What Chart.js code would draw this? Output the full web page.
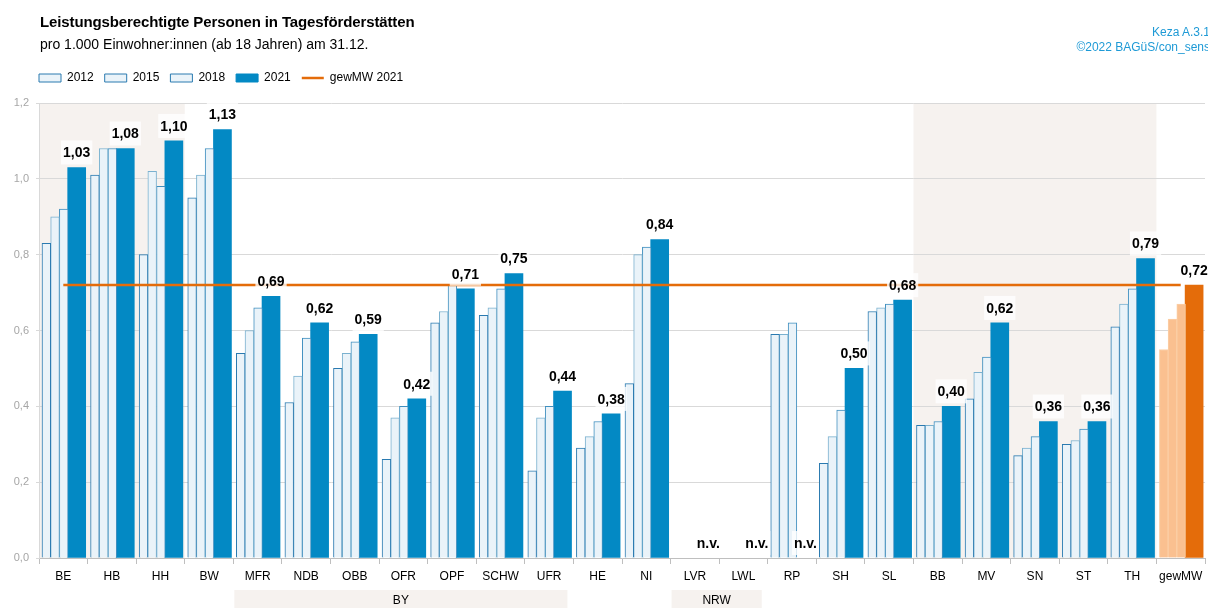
<!DOCTYPE html>
<html lang="de">
<head>
<meta charset="utf-8">
<title>Leistungsberechtigte Personen in Tagesförderstätten</title>
<script src="https://cdn.jsdelivr.net/npm/chart.js@4.4.1/dist/chart.umd.min.js"></script>
<style>
  html, body { margin: 0; padding: 0; background: #fff; }
  #wrap { position: relative; width: 1208px; height: 608px; overflow: hidden; font-family: "Liberation Sans", Arial, sans-serif; }
  #chart { position: absolute; left: 0; top: 0; }
  .title { position: absolute; left: 40px; top: 13px; font-size: 15px; font-weight: bold; line-height: 18px; color: #000; white-space: nowrap; letter-spacing: -0.12px; }
  .subtitle { position: absolute; left: 40px; top: 36px; font-size: 14px; line-height: 16px; color: #000; white-space: nowrap; }
  .credit { position: absolute; right: -2px; font-size: 12px; line-height: 14px; color: #1e9ad6; white-space: nowrap; text-align: right; }
</style>
</head>
<body>
<div id="wrap">
  <canvas id="chart" width="1208" height="608"></canvas>
  <div class="title">Leistungsberechtigte Personen in Tagesförderstätten</div>
  <div class="subtitle">pro 1.000 Einwohner:innen (ab 18 Jahren) am 31.12.</div>
  <div class="credit" style="top: 25px;">Keza A.3.1</div>
  <div class="credit" style="top: 40px;">©2022 BAGüS/con_sens</div>
</div>
<script>
// Werte je Region (n.v. = null)
const categories = ['BE', 'HB', 'HH', 'BW', 'MFR', 'NDB', 'OBB', 'OFR', 'OPF', 'SCHW', 'UFR', 'HE', 'NI',
    'LVR', 'LWL', 'RP', 'SH', 'SL', 'BB', 'MV', 'SN', 'ST', 'TH', 'gewMW'];
const v2012 = [0.83, 1.01, 0.80, 0.95, 0.54, 0.41, 0.50, 0.26, 0.62, 0.64, 0.23, 0.29, 0.46,
    null, null, 0.59, 0.25, 0.65, 0.35, 0.42, 0.27, 0.30, 0.61, 0.55];
const v2015 = [0.90, 1.08, 1.02, 1.01, 0.60, 0.48, 0.54, 0.37, 0.65, 0.66, 0.37, 0.32, 0.80,
    null, null, 0.59, 0.32, 0.66, 0.35, 0.49, 0.29, 0.31, 0.67, 0.63];
const v2018 = [0.92, 1.08, 0.98, 1.08, 0.66, 0.58, 0.57, 0.40, 0.72, 0.71, 0.40, 0.36, 0.82,
    null, null, 0.62, 0.39, 0.67, 0.36, 0.53, 0.32, 0.34, 0.71, 0.67];
const v2021 = [1.03, 1.08, 1.10, 1.13, 0.69, 0.62, 0.59, 0.42, 0.71, 0.75, 0.44, 0.38, 0.84,
    null, null, null, 0.50, 0.68, 0.40, 0.62, 0.36, 0.36, 0.79, 0.72];
const gewMW2021 = 0.72;
const yTicks = [0, 0.2, 0.4, 0.6, 0.8, 1.0, 1.2];

// Hinterlegte Bereiche und Gruppen (Index von/bis)
const shadedFrom = [0, 18];
const shadedTo = [2, 22];
const groupNames = ['BY', 'NRW'];
const groupFrom = [4, 13];
const groupTo = [10, 14];

// Lage der Säulen innerhalb einer Kategorie (Anteil der Kategoriebreite)
const slot = { y2012: -0.349, y2015: -0.170, y2018: 0.009, y2021: 0.276 };

const FONT = '"Liberation Sans", Arial, sans-serif';
const LIGHT = '#eaf3f9';
const BLUE = '#0389c4';
const ORANGE = '#e46c0a';
const ORANGE_LIGHT = '#fac090';
const last = categories.length - 1;

function colors(normal, mw) {
    return categories.map((c, i) => i === last ? mw : normal);
}
function fmt(v, d) {
    return v.toFixed(d).replace('.', ',');
}
function points(values, off) {
    return values.map((v, i) => ({ x: i + off, y: v }));
}

const bandPlugin = {
    id: 'bands',
    beforeDraw(chart) {
        const { ctx, chartArea, scales: { x } } = chart;
        const half = (x.getPixelForValue(1) - x.getPixelForValue(0)) / 2;
        ctx.save();
        ctx.fillStyle = '#f6f2ef';
        for (let i = 0; i < shadedFrom.length; i++) {
            const l = x.getPixelForValue(shadedFrom[i]) - half;
            const r = x.getPixelForValue(shadedTo[i]) + half;
            ctx.fillRect(l, chartArea.top, r - l, chartArea.bottom - chartArea.top);
        }
        ctx.font = '12px ' + FONT;
        ctx.textAlign = 'center';
        ctx.textBaseline = 'middle';
        for (let i = 0; i < groupNames.length; i++) {
            const l = x.getPixelForValue(groupFrom[i]) - half + 1;
            const r = x.getPixelForValue(groupTo[i]) + half - 6;
            ctx.fillStyle = '#f6f2ef';
            ctx.fillRect(l, 590, r - l, 20);
            ctx.fillStyle = '#000';
            ctx.fillText(groupNames[i], (l + r) / 2, 601);
        }
        ctx.restore();
    },
    afterLayout(chart) {
        // Legende an der Zeichenfläche ausrichten
        const lg = chart.legend;
        const h = lg.height;
        lg.left = chart.chartArea.left - 11;
        lg.top = 61;
        lg.bottom = 61 + h;
    }
};

const labelPlugin = {
    id: 'valueLabels',
    afterDatasetsDraw(chart) {
        const { ctx, scales: { y } } = chart;
        const meta = chart.getDatasetMeta(3);
        const y0 = y.getPixelForValue(0);
        ctx.save();
        ctx.font = 'bold 14px ' + FONT;
        ctx.textAlign = 'center';
        ctx.textBaseline = 'middle';
        meta.data.forEach((bar, i) => {
            const v = v2021[i];
            const text = v == null ? 'n.v.' : fmt(v, 2);
            const cy = v == null ? y0 - 15 : bar.y - 15;
            const w = ctx.measureText(text).width + 4;
            ctx.fillStyle = 'rgba(255,255,255,0.78)';
            ctx.fillRect(bar.x - w / 2, cy - 12, w, 24);
            ctx.fillStyle = '#000';
            ctx.fillText(text, bar.x, cy + 1);
        });
        ctx.restore();
    }
};

const thin = { grouped: false, barThickness: 8.7, borderWidth: 1, xAxisID: 'xl' };
const wide = { grouped: false, barThickness: 18, borderWidth: 0, xAxisID: 'xl' };

new Chart(document.getElementById('chart'), {
    type: 'bar',
    data: {
        labels: categories,
        datasets: [
            Object.assign({ label: '2012', data: points(v2012, slot.y2012),
                backgroundColor: colors(LIGHT, ORANGE_LIGHT), borderColor: colors('#2a7ab0', '#fbcfa6') }, thin),
            Object.assign({ label: '2015', data: points(v2015, slot.y2015),
                backgroundColor: colors(LIGHT, ORANGE_LIGHT), borderColor: colors('#7ab1cf', '#fbcfa6') }, thin),
            Object.assign({ label: '2018', data: points(v2018, slot.y2018),
                backgroundColor: colors(LIGHT, ORANGE_LIGHT), borderColor: colors('#3f8fbf', '#fbcfa6') }, thin),
            Object.assign({ label: '2021', data: points(v2021, slot.y2021),
                backgroundColor: colors(BLUE, ORANGE) }, wide),
            { type: 'line', label: 'gewMW 2021', data: categories.map(() => gewMW2021), xAxisID: 'x',
              borderColor: ORANGE, borderWidth: 2.5, pointRadius: 0, order: -1 }
        ]
    },
    options: {
        responsive: false,
        animation: false,
        devicePixelRatio: 1,
        layout: { padding: { top: 70, right: 3, bottom: 0, left: 0 } },
        plugins: {
            tooltip: { enabled: false },
            legend: {
                position: 'top',
                align: 'start',
                labels: {
                    usePointStyle: true,
                    pointStyleWidth: 22,
                    boxHeight: 8,
                    padding: 11,
                    color: '#000',
                    font: { family: FONT, size: 12 },
                    generateLabels() {
                        return [
                            { text: '2012', fillStyle: LIGHT, strokeStyle: '#2a7ab0', lineWidth: 1, pointStyle: 'rect' },
                            { text: '2015', fillStyle: LIGHT, strokeStyle: '#2a7ab0', lineWidth: 1, pointStyle: 'rect' },
                            { text: '2018', fillStyle: LIGHT, strokeStyle: '#2a7ab0', lineWidth: 1, pointStyle: 'rect' },
                            { text: '2021', fillStyle: BLUE, strokeStyle: BLUE, lineWidth: 1, pointStyle: 'rect' },
                            { text: 'gewMW 2021', fillStyle: ORANGE, strokeStyle: ORANGE, lineWidth: 2.5, pointStyle: 'line' }
                        ];
                    }
                }
            }
        },
        scales: {
            x: {
                type: 'category',
                offset: true,
                grid: { offset: true, drawOnChartArea: false, tickLength: 6, color: '#bfbfbf' },
                border: { color: '#bfbfbf' },
                ticks: { color: '#000', font: { family: FONT, size: 12 }, padding: 5, autoSkip: false, maxRotation: 0 },
                afterFit(s) { s.height = 50; }
            },
            xl: {
                type: 'linear',
                min: -0.5,
                max: categories.length - 0.5,
                offset: false,
                display: false
            },
            y: {
                min: 0,
                max: 1.2,
                afterBuildTicks(s) { s.ticks = yTicks.map(v => ({ value: v })); },
                ticks: { color: '#a6a6a6', font: { family: FONT, size: 11 }, padding: 7, callback: v => fmt(v, 1) },
                grid: { color: '#d9d9d9', tickLength: 3 },
                border: { color: '#d9d9d9' },
                afterFit(s) { s.width = 39; }
            }
        }
    },
    plugins: [bandPlugin, labelPlugin]
});
</script>
</body>
</html>
